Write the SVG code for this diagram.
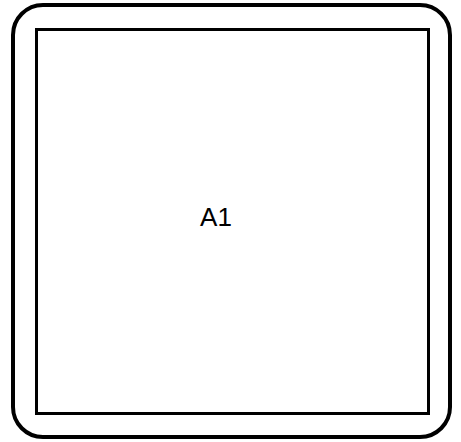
<svg xmlns="http://www.w3.org/2000/svg" width="461" height="442" viewBox="0 0 461 442">
<style>
.outer{fill:none;stroke:#000;stroke-width:4}
.inner{fill:none;stroke:#000;stroke-width:3}
.lbl{font-family:"Liberation Sans",Arial,sans-serif;font-size:26px;fill:#000;text-anchor:middle}
</style>
<rect width="461" height="442" fill="#fff"/>
<g id="A1">
<rect class="outer" x="13" y="5" width="437" height="432" rx="30" ry="30"/>
<rect class="inner" x="36.5" y="29.5" width="392" height="384"/>
<text class="lbl" x="216" y="226">A1</text>
</g>
<g id="connectors"/>
</svg>
